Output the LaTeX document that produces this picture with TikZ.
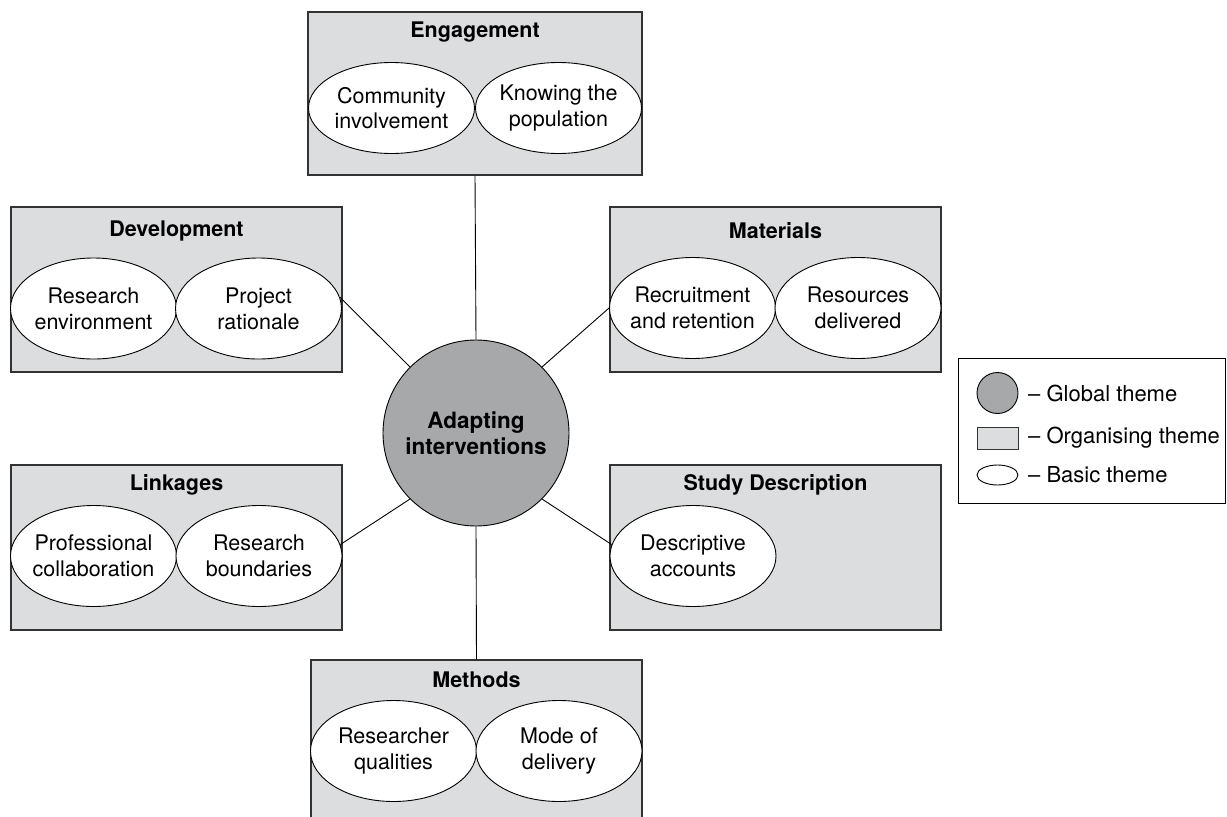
\documentclass[tikz,border=0pt]{standalone}
\usepackage{fontspec}
\setmainfont{TeX Gyre Heros}
\usetikzlibrary{shapes.geometric}
\definecolor{boxgray}{HTML}{DCDDDF}
\definecolor{globgray}{HTML}{A7A8AA}
\definecolor{edge}{HTML}{333333}
\tikzset{
  orgbox/.style={draw=edge, line width=1.1pt, fill=boxgray, inner sep=0pt},
  basic/.style={ellipse, draw=black, line width=0.9pt, fill=white, inner sep=0pt,
    minimum width=166pt, minimum height=101pt},
  btxt/.style={align=center, inner sep=0pt, font=\fontsize{21.5}{25.7}\selectfont},
  ttl/.style={font=\fontsize{21.5}{25}\selectfont\bfseries, inner sep=0pt},
  global/.style={circle, draw=black, line width=0.9pt, fill=globgray, minimum size=186pt,
    inner sep=0pt, align=center, font=\fontsize{22.5}{26}\selectfont\bfseries},
  link/.style={draw=black, line width=0.9pt},
  legtxt/.style={anchor=west, font=\fontsize{22}{25}\selectfont, inner sep=0pt}
}
\begin{document}
\begin{tikzpicture}[x=1pt,y=-1pt]
\useasboundingbox (0,0) rectangle (1227,817);
\clip (0,0) rectangle (1227,817);
% organising boxes
\node[orgbox, minimum width=334pt, minimum height=163pt] (eng) at (475,93.5) {};
\node[orgbox, minimum width=331pt, minimum height=165pt] (dev) at (176.5,289.5) {};
\node[orgbox, minimum width=331pt, minimum height=165pt] (mat) at (775.5,289.5) {};
\node[orgbox, minimum width=331pt, minimum height=165pt] (lnk) at (176.5,547.5) {};
\node[orgbox, minimum width=331pt, minimum height=165pt] (std) at (775.5,547.5) {};
\node[orgbox, minimum width=331pt, minimum height=190pt] (met) at (476.5,755) {};
% titles
\node[ttl] (engt) at (475,32) {Engagement};
\node[ttl] (devt) at (176.5,231) {Development};
\node[ttl] (matt) at (775.5,231) {Materials};
\node[ttl] (lnkt) at (176.5,485) {Linkages};
\node[ttl] (stdt) at (775.5,485) {Study Description};
\node[ttl] (mett) at (476.5,680) {Methods};
% basic themes
\node[basic, minimum height=91pt] (e1) at (391.5,108) {};
\node[basic, minimum height=91pt] (e2) at (558.5,108) {};
\node[basic] (d1) at (93.5,308.5) {};
\node[basic] (d2) at (258.5,308.5) {};
\node[basic] (m1) at (692.5,308) {};
\node[basic] (m2) at (858,308) {};
\node[basic] (l1) at (93.5,556) {};
\node[basic] (l2) at (259,556) {};
\node[basic] (s1) at (693,556) {};
\node[basic] (t1) at (393.5,751) {};
\node[basic] (t2) at (559,751) {};
\node[btxt] (e1t) at (e1) {Community\\involvement};
\node[btxt] (e2t) at (e2) {Knowing the\\population};
\node[btxt] (d1t) at (d1) {Research\\environment};
\node[btxt] (d2t) at (d2) {Project\\rationale};
\node[btxt] (m1t) at (m1) {Recruitment\\and retention};
\node[btxt] (m2t) at (m2) {Resources\\delivered};
\node[btxt] (l1t) at (l1) {Professional\\collaboration};
\node[btxt] (l2t) at (l2) {Research\\boundaries};
\node[btxt] (s1t) at (s1) {Descriptive\\accounts};
\node[btxt] (t1t) at (t1) {Researcher\\qualities};
\node[btxt] (t2t) at (t2) {Mode of\\delivery};
% global theme
\node[global] (g) at (476,433) {Adapting\\interventions};
% connectors
\draw[link] (g.north) -- (eng.south);
\draw[link] (g.south) -- (met.north);
\draw[link] (g.135) -- (d2.8);
\draw[link] (g.45) -- (m1.west);
\draw[link] (g.225) -- (l2.8);
\draw[link] (g.315) -- (s1.172);
% legend
\node[draw=black, line width=0.9pt, fill=white, minimum width=267pt, minimum height=145pt, inner sep=0pt] (leg) at (1092,430.5) {};
\node[circle, draw=black, line width=0.9pt, fill=globgray, minimum size=41pt, inner sep=0pt] (lc) at (997.5,393) {};
\node[draw=edge, line width=0.9pt, fill=boxgray, minimum width=41pt, minimum height=22pt, inner sep=0pt] (lr) at (997.5,438) {};
\node[ellipse, draw=black, line width=0.9pt, fill=white, minimum width=41pt, minimum height=20pt, inner sep=0pt] (le) at (997.5,475) {};
\node[legtxt] (lct) at (1028,393) {– Global theme};
\node[legtxt] (lrt) at (1028,438) {– Organising theme};
\node[legtxt] (let) at (1028,475) {– Basic theme};
\end{tikzpicture}
\end{document}
